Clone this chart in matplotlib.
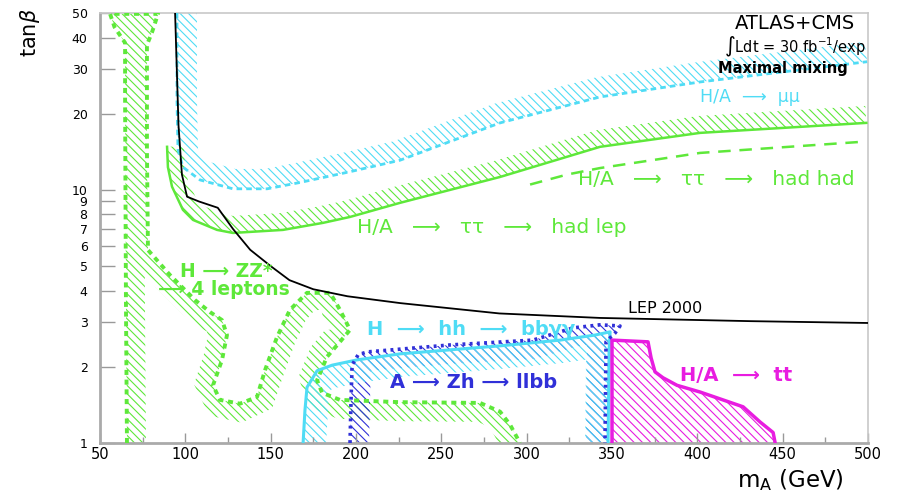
import numpy as np
import matplotlib
matplotlib.use('Agg')
import matplotlib.pyplot as plt
from matplotlib.patches import Polygon
from matplotlib.ticker import FixedLocator, NullLocator, MultipleLocator

plt.rcParams['font.family'] = ['DejaVu Sans']
plt.rcParams['hatch.linewidth'] = 0.8

# %% data: m_A [GeV] vs tan(beta)
lep_m = [94, 95, 96, 98, 101, 108, 119, 128, 138, 150, 161, 175, 195, 226, 284, 343, 431, 500]
lep_tb = [50, 30, 18, 11.5, 9.4, 9.0, 8.5, 7.0, 5.8, 5.0, 4.4, 4.05, 3.8, 3.57, 3.25, 3.12, 3.03, 2.98]

mumu_m = [95.1, 95.1, 95.7, 98.6, 108.6, 127.9, 147.9, 167.2, 196.5, 225.8, 284.4, 343, 401.6, 499.5]
mumu_tb = [50, 22.7, 14.4, 12.3, 10.95, 10.1, 10.1, 10.7, 11.8, 13.1, 18.4, 23.3, 26.7, 32.1]

hadlep_m = [89.3, 89.8, 92.2, 98.6, 104.5, 118.6, 127.9, 157.2, 180.7, 196.5, 225.8, 284.4, 343, 401.6, 499]
hadlep_tb = [14.8, 12.3, 10.3, 8.34, 7.61, 6.95, 6.76, 6.95, 7.41, 7.82, 8.89, 11.25, 14.8, 16.8, 18.4]

hadhad_m = [302, 323.7, 343, 401.6, 497]
hadhad_tb = [10.5, 11.5, 12.2, 14.0, 15.5]

zz_m = [65.8, 65.2, 64.7, 64.7, 58.5, 55.9, 84.0, 80.5, 77.5, 77.5, 78.1, 91.0, 105.7, 114.5, 121.5,
        124.4, 121.5, 116.2, 120.3, 132.0, 142.0, 146.7, 153.7, 161.3, 171.3, 184.8, 190.6, 196.5,
        190.6, 183.0, 177.2, 180.1, 190.6, 225.8, 272.7, 284.4, 290.3, 296.1]
zz_tb = [1.0, 3.67, 22.7, 38.1, 44.0, 49.6, 49.6, 42.0, 37.4, 14.4, 5.79, 4.61, 3.67, 3.29, 3.06,
         2.67, 2.13, 1.69, 1.48, 1.43, 1.52, 1.94, 2.62, 3.36, 3.92, 3.92, 3.36, 2.80,
         2.51, 2.19, 1.77, 1.58, 1.48, 1.45, 1.44, 1.33, 1.18, 1.0]

zh_m = [196.5, 197.1, 197.7, 201.2, 206.5, 255.1, 303.7, 327.2, 343, 354.7, 351.8, 346.5, 345.9]
zh_tb = [1.0, 1.48, 2.03, 2.23, 2.29, 2.44, 2.55, 2.85, 2.93, 2.90, 2.72, 2.51, 1.0]

hh_m = [169, 170.1, 171.3, 177.2, 186, 200.6, 225.8, 284.4, 319.6, 340.1, 348.9, 348.3, 347.7]
hh_tb = [1.0, 1.35, 1.66, 1.93, 2.03, 2.13, 2.25, 2.42, 2.55, 2.67, 2.75, 2.33, 1.0]

tt_m = [350, 350, 371.1, 372.9, 375.2, 379.9, 388.1, 401.6, 426.8, 436.8, 444.4, 445.6]
tt_tb = [1.0, 2.55, 2.51, 2.17, 1.91, 1.81, 1.69, 1.59, 1.39, 1.21, 1.10, 1.0]

yticks = [1, 2, 3, 4, 5, 6, 7, 8, 9, 10, 20, 30, 40, 50]
ytick_labels = [str(t) for t in yticks]

green = '#5ee83a'
cyan = '#4fdcf5'
blue = '#3030d8'
magenta = '#e81ce0'

# %%
fig = plt.figure(figsize=(8.97, 4.96), dpi=100)
ax = fig.add_axes([100/897, 53/496, 768/897, 430/496])
ax.set_yscale('log')
ax.set_xlim(50, 500)
ax.set_ylim(1, 50)

def hatch_band(x, y, width, side, color):
    # hatched strip of fixed pixel width along one side of a curve
    pts = ax.transData.transform(np.column_stack([x, y]))
    d = np.gradient(pts, axis=0)
    d = d / np.hypot(d[:, 0], d[:, 1])[:, None]
    off = pts + side*width*np.column_stack([d[:, 1], -d[:, 0]])
    poly = ax.transData.inverted().transform(np.vstack([pts, off[::-1]]))
    ax.add_patch(Polygon(poly, closed=True, fill=False, hatch='\\\\\\\\', edgecolor=color, lw=0, zorder=1))

hatch_band(mumu_m, mumu_tb, 20, -1, cyan)
hatch_band(hadlep_m, hadlep_tb, 17, -1, green)
hatch_band(zz_m, zz_tb, 19, 1, green)
hatch_band(zh_m, zh_tb, 19, 1, blue)
hatch_band(hh_m, hh_tb, 23, 1, cyan)
ax.add_patch(Polygon(np.column_stack([tt_m, tt_tb]), closed=True, fill=False, hatch='\\\\\\\\',
                     edgecolor=magenta, lw=0, zorder=1))

ax.plot(mumu_m, mumu_tb, color=cyan, lw=2, ls=(0, (2, 1.5)), zorder=3)
ax.plot(hadlep_m, hadlep_tb, color=green, lw=1.8, zorder=3)
ax.plot(hadhad_m, hadhad_tb, color=green, lw=1.8, ls=(0, (5, 3.5)), zorder=3)
ax.plot(zz_m, zz_tb, color=green, lw=2.8, ls=(0, (1.3, 1.2)), zorder=3)
ax.plot(hh_m, hh_tb, color=cyan, lw=2.2, zorder=3)
ax.plot(zh_m, zh_tb, color=blue, lw=2.6, ls=(0, (0.8, 1.2)), zorder=3)
ax.plot(tt_m, tt_tb, color=magenta, lw=2.5, zorder=3)
ax.plot(lep_m, lep_tb, color='black', lw=1.3, zorder=4)

# axes style
ax.xaxis.set_major_locator(MultipleLocator(50))
ax.xaxis.set_minor_locator(MultipleLocator(25))
ax.yaxis.set_major_locator(FixedLocator(yticks))
ax.yaxis.set_minor_locator(NullLocator())
ax.set_yticklabels(ytick_labels)
ax.tick_params(axis='x', which='major', direction='in', length=7, width=1, color='#999999', pad=3, labelsize=10.5)
ax.tick_params(axis='x', which='minor', direction='in', length=4, width=1, color='#999999')
ax.tick_params(axis='y', which='major', direction='in', length=11, width=1, color='#999999', pad=9, labelsize=9)
for s in ['left', 'bottom']:
    ax.spines[s].set_color('#aaaaaa')
    ax.spines[s].set_linewidth(2)
for s in ['top', 'right']:
    ax.spines[s].set_color('#c8c8c8')
    ax.spines[s].set_linewidth(1.2)

# labels
T = ax.transAxes
ax.text(0.905, 0.975, 'ATLAS+CMS', transform=T, ha='center', va='center', fontsize=14, zorder=5)
ax.text(0.905, 0.921, r'$\int$Ldt = 30 fb$^{-1}$/exp', transform=T, ha='center', va='center', fontsize=10.5, zorder=5)
ax.text(0.889, 0.872, 'Maximal mixing', transform=T, ha='center', va='center', fontsize=10.5, fontweight='bold', zorder=5)
ax.text(0.781, 0.805, 'H/A  ⟶  μμ', transform=T, ha='left', va='center', fontsize=12.5, color=cyan, zorder=5)
ax.text(0.622, 0.612, 'H/A   ⟶   ττ   ⟶   had had', transform=T, ha='left', va='center', fontsize=14.5, color=green, zorder=5)
ax.text(0.335, 0.502, 'H/A   ⟶   ττ   ⟶   had lep', transform=T, ha='left', va='center', fontsize=14.5, color=green, zorder=5)
ax.text(0.104, 0.398, 'H ⟶ ZZ*', transform=T, ha='left', va='center', fontsize=13.5, color=green, fontweight='bold', zorder=5)
ax.text(0.0755, 0.356, '⟶ 4 leptons', transform=T, ha='left', va='center', fontsize=13.5, color=green, fontweight='bold', zorder=5)
ax.text(0.6875, 0.312, 'LEP 2000', transform=T, ha='left', va='center', fontsize=11.5, zorder=5)
ax.text(0.348, 0.263, 'H  ⟶  hh  ⟶  bbγγ', transform=T, ha='left', va='center', fontsize=14, color=cyan, fontweight='bold', zorder=5)
ax.text(0.378, 0.140, 'A ⟶ Zh ⟶ llbb', transform=T, ha='left', va='center', fontsize=14, color=blue, fontweight='bold', zorder=5)
ax.text(0.755, 0.158, 'H/A  ⟶  tt', transform=T, ha='left', va='center', fontsize=14, color=magenta, fontweight='bold', zorder=5)

fig.text(0.881, 0.032, r'm$_{\rm A}$ (GeV)', ha='center', va='center', fontsize=16.5)
fig.text(0.033, 0.935, r'tan$\beta$', ha='center', va='center', fontsize=15, rotation=90)

fig.savefig('out.png', dpi=100)
